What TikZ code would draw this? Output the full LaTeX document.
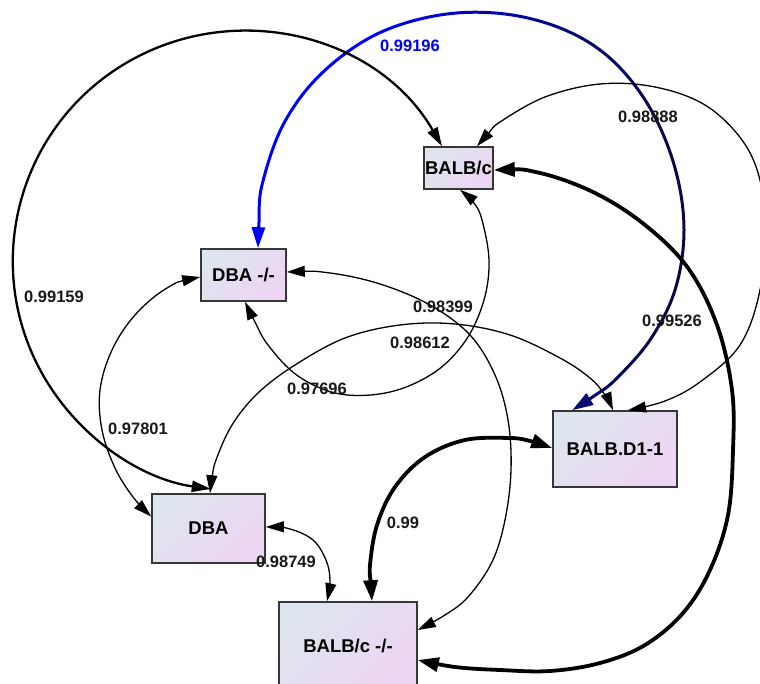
\documentclass[tikz,border=0pt]{standalone}
\usepackage{fontspec}
\setmainfont{Liberation Sans}
\usetikzlibrary{arrows.meta,calc}
\definecolor{nodeL}{RGB}{222,229,238}
\definecolor{nodeR}{RGB}{237,213,243}
\definecolor{boxline}{RGB}{55,55,55}
\definecolor{navyc}{RGB}{8,8,72}
\definecolor{bluec}{RGB}{0,0,255}
\begin{document}
\begin{tikzpicture}[x=1pt,y=-1pt,
  nd/.style={draw=boxline, line width=1.6pt, top color=nodeL, bottom color=nodeR, shading angle=45, inner sep=0pt, font=\fontsize{18.5}{20}\selectfont\bfseries},
  lbl/.style={font=\fontsize{16.5}{18}\selectfont\bfseries, text=black!90, inner sep=0pt},
  edgethin/.style={line width=1.3pt, <->, >={Triangle[length=18pt,width=11pt]}},
  edgemid/.style={line width=2.3pt, <->, >={Triangle[length=19pt,width=11pt]}},
  edgeblue/.style={line width=3pt, <->, >={Triangle[length=21pt,width=13pt]}},
  edgeheavy/.style={line width=3.8pt, <->, >={Triangle[length=21pt,width=14pt]}},
  sm/.style={smooth, tension=0.6},
]
\useasboundingbox (0,0) rectangle (760,684);
\clip (0,0) rectangle (760,684);
\fill[white] (0,0) rectangle (760,684);

% nodes
\node[nd, minimum width=69pt, minimum height=42pt] (bc) at (458.5,168) {BALB/c};
\node[nd, minimum width=85pt, minimum height=52pt] (dm) at (243.5,275) {DBA -/-};
\node[nd, minimum width=124pt, minimum height=76pt] (d1) at (615,449) {BALB.D1-1};
\node[nd, minimum width=113pt, minimum height=69pt] (db) at (208.5,528.5) {DBA};
\node[nd, minimum width=138pt, minimum height=88pt] (bm) at (348,646) {BALB/c -/-};

% blue -> navy edge (DBA -/- <-> BALB.D1-1), colour graded along x
\foreach \i in {0,...,14} {
  \pgfmathsetmacro\xa{\i==0 ? -10 : 380+20*(\i-1)}
  \pgfmathsetmacro\xb{\i==14 ? 780 : 380+20*\i}
  \pgfmathtruncatemacro\p{100*\i/14}
  \begin{scope}
    \clip (\xa,-10) rectangle (\xb,700);
    \draw[edgeblue, color=navyc!\p!bluec] plot[sm] coordinates {
      ($(dm.north)+(14.5,0)$) (259,222) (262,185) (283,125) (320,75) (375,35) (440,15) (505,14)
      (565,30) (612,60) (650,108) (675,168) (684,230) (675,290) (650,340) (615,380)
      (594,396) ($(d1.north west)+(20,0)$)};
  \end{scope}
}

% BALB/c <-> BALB.D1-1
\draw[edgethin] plot[sm] coordinates {
  ($(bc.north)+(18.5,0)$) (488,134) (500,122) (545,97) (600,84) (655,87) (705,105) (742,140)
  (760,180) (764,228) (760,290) (740,345) (700,382) (665,401) ($(d1.north)+(13,0)$)};

% BALB/c <-> DBA (big circular arc ending on the top of DBA)
\draw[edgemid] ($(bc.north)+(-16.5,0)$) arc[start angle=-30, end angle=-262, radius=230];

% BALB/c <-> BALB/c -/-
\draw[edgeheavy] plot[sm] coordinates {
  ($(bc.east)+(0,2)$) (540,173) (595,193) (645,225) (688,268) (717,325) (732,390)
  (733,450) (728,515) (710,570) (683,613) (645,645) (600,663) (550,671) (500,670)
  (455,667) ($(bm.east)+(0,14)$)};

% BALB/c <-> DBA -/-
\draw[edgethin] plot[sm] coordinates {
  ($(bc.south)+(1.5,0)$) (474,203) (482,220) (489,260) (484,300) (466,340) (435,372) (390,392)
  (340,394) (298,376) (268,345) (254,320) ($(dm.south)+(1.5,0)$)};

% DBA -/- <-> BALB/c -/-
\draw[edgethin] plot[sm] coordinates {
  ($(dm.east)+(0,-3)$) (330,273) (380,284) (430,305) (470,335) (495,375) (508,420)
  (511,470) (505,520) (492,562) (468,597) (445,615) ($(bm.east)+(0,-16)$)};

% DBA -/- <-> DBA
\draw[edgethin] plot[sm] coordinates {
  ($(dm.west)+(0,2)$) (167,288) (135,315) (112,350) (100,390) (102,430) (115,468)
  (133,497) ($(db.west)+(0,-12)$)};

% DBA <-> BALB.D1-1
\draw[edgethin] plot[sm] coordinates {
  ($(db.north)+(1.5,0)$) (212,478) (216,460) (232,425) (258,393) (295,365) (345,338) (400,325)
  (455,324) (510,335) (560,358) (590,378) (605,395) ($(d1.north)+(-2,0)$)};

% BALB.D1-1 <-> BALB/c -/-
\draw[edgeheavy] plot[sm] coordinates {
  ($(d1.west)+(0,-1)$) (530,441) (510,438) (465,440) (425,457) (395,487) (377,525) (370,565)
  (371,585) ($(bm.north)+(24,0)$)};

% DBA <-> BALB/c -/-
\draw[edgethin] plot[sm] coordinates {
  ($(db.east)+(0,-1.5)$) (290,529) (313,540) (326,560) (330,580) ($(bm.north)+(-21,0)$)};

% labels
\node[lbl, text=bluec] (l1) at (410,46) {0.99196};
\node[lbl] (l2) at (648,117) {0.98888};
\node[lbl] (l3) at (54,297) {0.99159};
\node[lbl] (l4) at (672,321) {0.99526};
\node[lbl] (l5) at (443,307) {0.98399};
\node[lbl] (l6) at (420,343) {0.98612};
\node[lbl] (l7) at (317,389) {0.97696};
\node[lbl] (l8) at (138,429) {0.97801};
\node[lbl] (l9) at (403,523) {0.99};
\node[lbl] (l10) at (286,562) {0.98749};
\end{tikzpicture}
\end{document}
